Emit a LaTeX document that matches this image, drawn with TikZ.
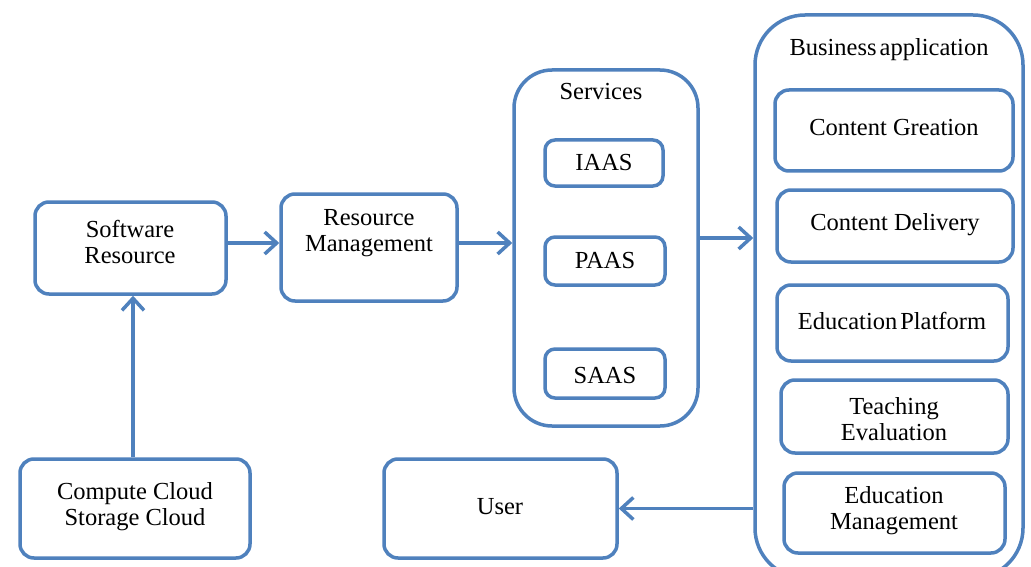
\documentclass[tikz,border=0pt]{standalone}
\usepackage{fontspec}
\setmainfont{Liberation Serif}
\usetikzlibrary{arrows.meta}
\definecolor{bl}{RGB}{79,129,189}
\begin{document}
\begin{tikzpicture}[x=1pt,y=-1pt,
 box/.style={draw=bl, line width=3.5pt, rounded corners=14pt, inner sep=0pt},
 lbl/.style={font=\fontsize{24.5}{26}\selectfont, align=center, text=black, inner sep=0pt},
 arr/.style={draw=bl, line width=3.5pt, -{Straight Barb[length=12pt,width=22pt,line width=3.5pt]}}]
\useasboundingbox (0,0) rectangle (1031,567);
\fill[white] (0,0) rectangle (1031,567);
\begin{scope}
\clip (0,0) rectangle (1031,567);
% boxes
\node[box, minimum width=191pt, minimum height=92pt] (sr) at (130.5,248) {};
\node[box, minimum width=176pt, minimum height=107pt] (rm) at (369,247.5) {};
\node[box, rounded corners=38pt, minimum width=184pt, minimum height=356pt] (serv) at (606,248) {};
\node[box, rounded corners=10pt, minimum width=118pt, minimum height=46pt] (iaas) at (604,163) {};
\node[box, rounded corners=10pt, minimum width=120pt, minimum height=48pt] (paas) at (605,261) {};
\node[box, rounded corners=10pt, minimum width=120pt, minimum height=49pt] (saas) at (605,373.5) {};
\node[box, rounded corners=50pt, minimum width=268pt, minimum height=563pt] (biz) at (889,296.5) {};
\node[box, minimum width=238pt, minimum height=81pt] (cg) at (894,130.5) {};
\node[box, minimum width=236pt, minimum height=72pt] (cd) at (895,226) {};
\node[box, minimum width=231pt, minimum height=76pt] (ep) at (892.5,323) {};
\node[box, minimum width=227pt, minimum height=73pt] (te) at (894.5,416.5) {};
\node[box, minimum width=221pt, minimum height=80pt] (em) at (894.5,513) {};
\node[box, minimum width=233pt, minimum height=99pt] (user) at (500.5,508.5) {};
\node[box, minimum width=230pt, minimum height=99pt] (cc) at (135,508.5) {};
% labels
\node[lbl] (srt) at (130,241.5) {Software\\Resource};
\node[lbl] (rmt) at (369,233) {Resource\\Management};
\node[lbl] (servt) at (601,92) {Services};
\node[lbl] (iaast) at (604,163) {IAAS};
\node[lbl] (paast) at (605,261) {PAAS};
\node[lbl] (saast) at (605,376) {SAAS};
\node[lbl] (bizt) at (889,50) {Business\hspace{3pt}application};
\node[lbl] (cgt) at (894,128) {Content Greation};
\node[lbl] (cdt) at (895,225) {Content Delivery};
\node[lbl] (ept) at (892,321) {Education\hspace{3pt}Platform};
\node[lbl] (tet) at (894,419) {Teaching\\Evaluation};
\node[lbl] (emt) at (894,511) {Education\\Management};
\node[lbl] (usert) at (500,507) {User};
\node[lbl] (cct) at (135,507) {Compute Cloud\\Storage Cloud};
% arrows
\draw[arr] ([yshift=5pt]sr.east) -- ([yshift=4.5pt]rm.west);
\draw[arr] ([yshift=4.5pt]rm.east) -- ([yshift=5pt]serv.west);
\draw[arr] ([yshift=10pt]serv.east) -- (biz.west |- 0,238);
\draw[arr] (biz.west |- user.east) -- (user.east);
\draw[arr] ([xshift=-2pt]cc.north) -- (sr.south -| 133,0);
\end{scope}
\end{tikzpicture}
\end{document}
